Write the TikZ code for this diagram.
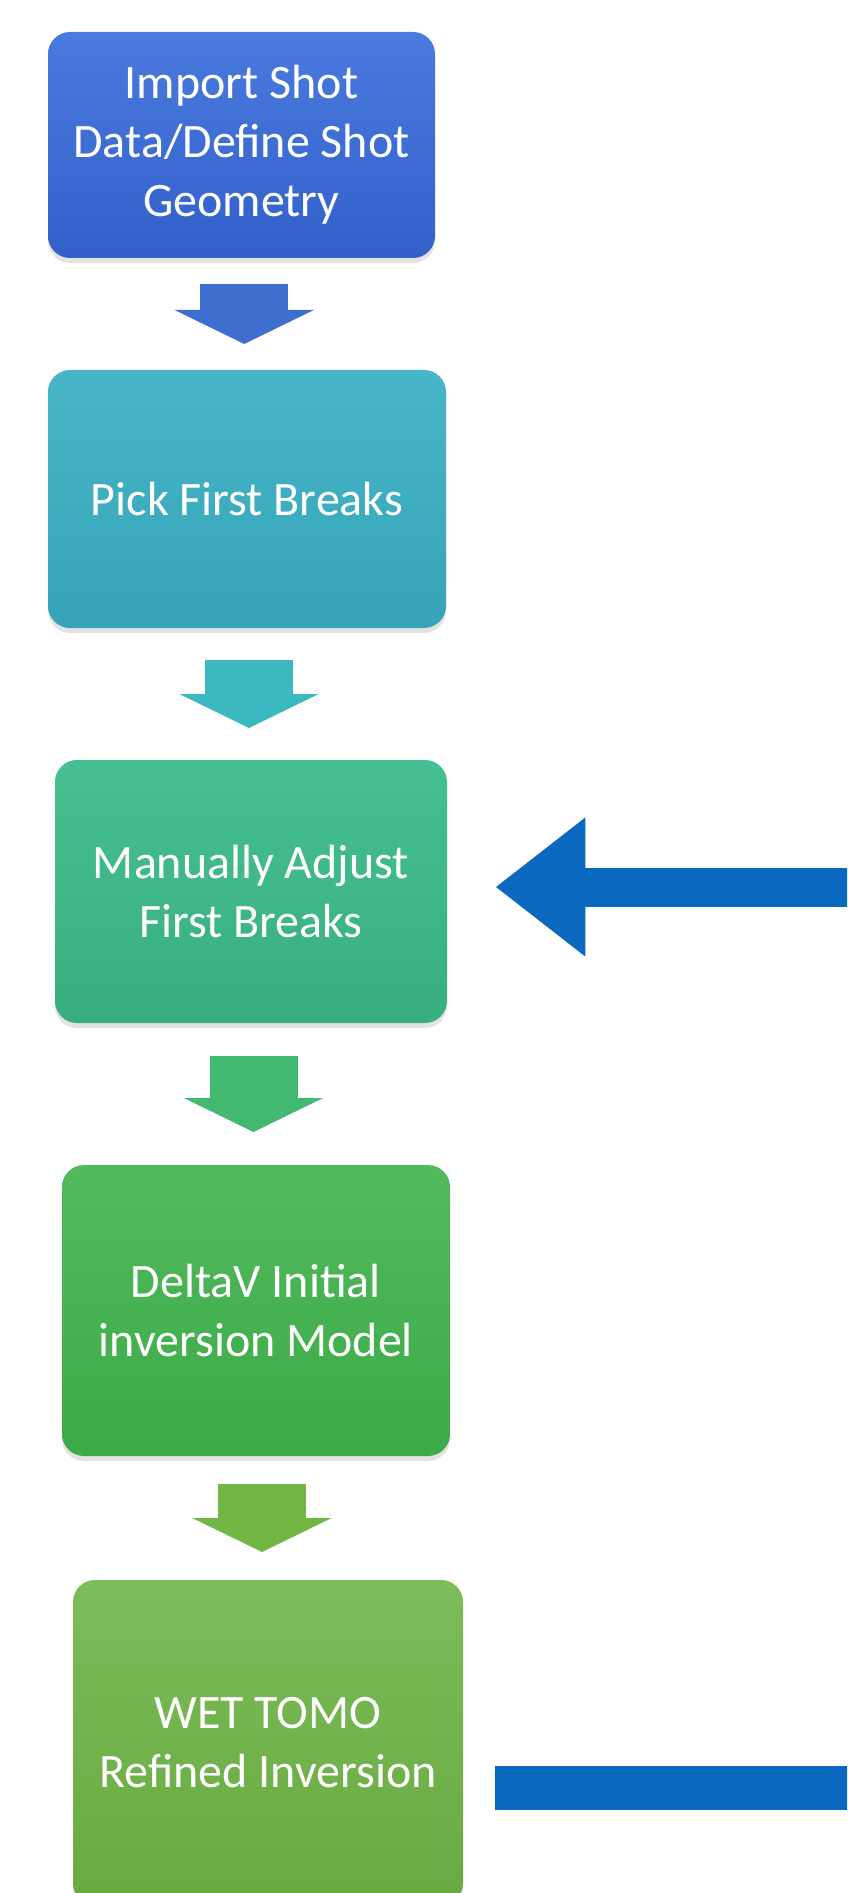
\documentclass[tikz,border=0pt]{standalone}
\usepackage{fontspec}
\setmainfont{Carlito}
\usetikzlibrary{calc,arrows.meta,shadows}
\definecolor{bAt}{RGB}{74,122,222}\definecolor{bAb}{RGB}{50,96,202}
\definecolor{bBt}{RGB}{70,182,200}\definecolor{bBb}{RGB}{54,164,184}
\definecolor{bCt}{RGB}{70,192,146}\definecolor{bCb}{RGB}{56,174,124}
\definecolor{bDt}{RGB}{82,186,94}\definecolor{bDb}{RGB}{60,170,70}
\definecolor{bEt}{RGB}{124,188,90}\definecolor{bEb}{RGB}{104,170,64}
\definecolor{aA}{RGB}{62,110,208}
\definecolor{aB}{RGB}{60,184,192}
\definecolor{aC}{RGB}{66,184,112}
\definecolor{aD}{RGB}{114,182,68}
\definecolor{fb}{RGB}{10,104,190}
\tikzset{
  stepbox/.style={rectangle, rounded corners=11pt, inner sep=0pt, align=center,
    text=white, font=\fontsize{24}{29.5}\selectfont,
    drop shadow={shadow xshift=0pt, shadow yshift=-2.5pt, opacity=0.22}},
  darr/.style={draw=#1, line width=44pt, -{Triangle[length=17pt,width=69pt]}},
  fbarrow/.style={draw=fb, line width=19.5pt, -{Triangle[length=45pt,width=66.5pt]}},
  fbline/.style={draw=fb, line width=22pt}
}
\begin{document}
\begin{tikzpicture}[x=0.5pt,y=-0.5pt]
\useasboundingbox[fill=white] (0,0) rectangle (847,1893);
\begin{scope}
\clip (0,0) rectangle (847,1893);
\node[stepbox, top color=bAt, bottom color=bAb, minimum width=193.5pt, minimum height=113pt]
  (b1) at (241.5,145) {Import Shot\\Data/Define Shot\\Geometry};
\node[stepbox, top color=bBt, bottom color=bBb, minimum width=199pt, minimum height=129pt]
  (b2) at (247,499) {Pick First Breaks};
\node[stepbox, top color=bCt, bottom color=bCb, minimum width=196pt, minimum height=131.5pt]
  (b3) at (251,891.5) {Manually Adjust\\First Breaks};
\node[stepbox, top color=bDt, bottom color=bDb, minimum width=194pt, minimum height=145.5pt]
  (b4) at (256,1310.5) {DeltaV Initial\\inversion Model};
\node[stepbox, top color=bEt, bottom color=bEb, minimum width=195pt, minimum height=162.5pt]
  (b5) at (268,1742.5) {WET TOMO\\Refined Inversion};

\coordinate (m1) at ($(b1.south)!0.5!(b2.north)$);
\coordinate (m2) at ($(b2.south)!0.5!(b3.north)$);
\coordinate (m3) at ($(b3.south)!0.5!(b4.north)$);
\coordinate (m4) at ($(b4.south)!0.5!(b5.north)$);
\draw[darr=aA] ($(m1)+(0,-30)$) -- ($(m1)+(0,30)$);
\draw[darr=aB] ($(m2)+(0,-34)$) -- ($(m2)+(0,34)$);
\draw[darr=aC] ($(m3)+(0,-38)$) -- ($(m3)+(0,38)$);
\draw[darr=aD] ($(m4)+(0,-34)$) -- ($(m4)+(0,34)$);

\coordinate (fbin) at (870,887);
\coordinate (fbout) at (870,1788);
\draw[fbarrow] (fbin) -- ($(b3.east |- fbin)+(48,0)$);
\draw[fbline] ($(b5.east |- fbout)+(32,0)$) -- (fbout);
\end{scope}
\end{tikzpicture}
\end{document}
